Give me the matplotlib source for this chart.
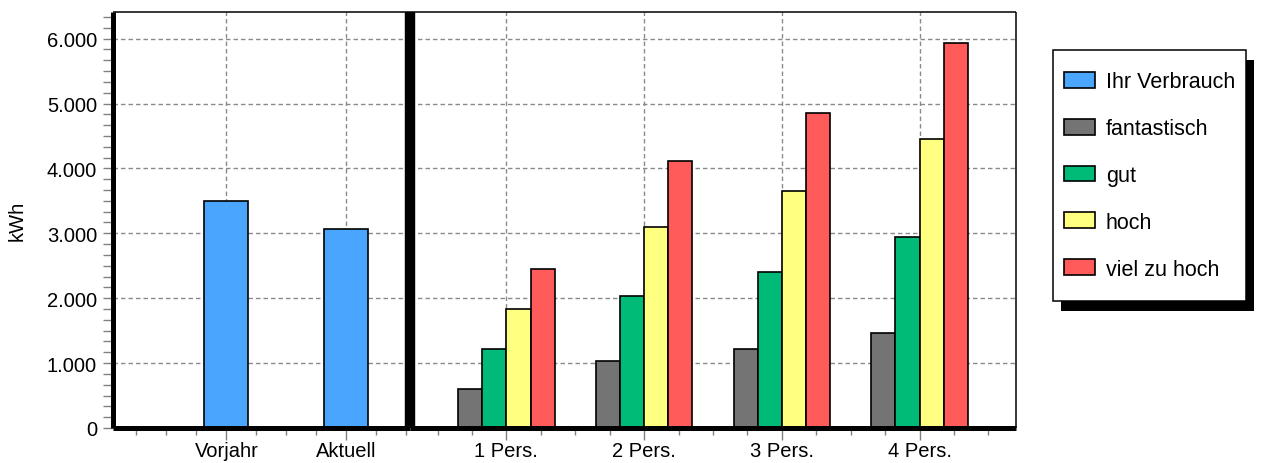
import matplotlib
matplotlib.use('Agg')
import matplotlib.pyplot as plt
from matplotlib.ticker import MultipleLocator, FixedLocator, FuncFormatter, NullLocator
from matplotlib.patches import Rectangle

plt.rcParams['font.family'] = ['Liberation Sans', 'DejaVu Sans']
plt.rcParams['font.size'] = 14.5

# own consumption
own_labels = ['Vorjahr', 'Aktuell']
own_values = [3500, 3070]

# reference values per household size
household_labels = ['1 Pers.', '2 Pers.', '3 Pers.', '4 Pers.']
fantastisch = [600, 1030, 1215, 1470]
gut = [1215, 2040, 2410, 2940]
hoch = [1830, 3090, 3650, 4450]
viel_zu_hoch = [2450, 4110, 4850, 5930]

series_names = ['Ihr Verbrauch', 'fantastisch', 'gut', 'hoch', 'viel zu hoch']
colors = ['#4aa5ff', '#747474', '#00ba78', '#ffff80', '#ff5b5b']

W, H = 1261, 464
fig = plt.figure(figsize=(W / 100, H / 100), dpi=100)
ax1 = fig.add_axes([112.5 / W, 35 / H, 297.5 / W, 416 / H])
ax2 = fig.add_axes([410 / W, 35 / H, 606 / W, 416 / H])

grid_kw = dict(color='#8a8a8a', linestyle=(0, (3.2, 2.2)), linewidth=1.0)
fmt = FuncFormatter(lambda v, _: f'{int(round(v)):,}'.replace(',', '.'))

# left panel
x1 = list(range(1, len(own_labels) + 1))
ax1.bar(x1, own_values, width=0.367, color=colors[0], edgecolor='black', linewidth=1.2)
ax1.set_xlim(0.05, 2.53)

# right panel
x2 = list(range(1, len(household_labels) + 1))
bw = 0.175
for k, vals in enumerate([fantastisch, gut, hoch, viel_zu_hoch]):
    off = (k - 1.5) * bw
    ax2.bar([x + off for x in x2], vals, width=bw, color=colors[k + 1],
            edgecolor='black', linewidth=1.2)
ax2.set_xlim(0.3, 4.7)

for ax, xs, labels in [(ax1, x1, own_labels), (ax2, x2, household_labels)]:
    ax.set_ylim(0, 6410)
    ax.set_axisbelow(True)
    ax.xaxis.set_major_locator(FixedLocator(xs))
    ax.set_xticklabels(labels)
    ax.xaxis.set_minor_locator(MultipleLocator(0.25))
    ax.yaxis.set_major_locator(MultipleLocator(1000))
    ax.grid(True, which='major', **grid_kw)
    ax.tick_params(axis='x', which='major', length=8.5, width=1, color='#808080', pad=1)
    ax.tick_params(axis='x', which='minor', length=5, width=1, color='#808080')
    ax.spines['bottom'].set_linewidth(3.6)
    ax.spines['top'].set_linewidth(1.1)
    for sp in ax.spines.values():
        sp.set_capstyle('butt')

ax1.yaxis.set_minor_locator(MultipleLocator(1000 / 6))
ax1.yaxis.set_major_formatter(fmt)
ax1.tick_params(axis='y', which='both', length=7.5, width=1, color='#808080', pad=3.6)
ax1.spines['left'].set_linewidth(3.6)
ax1.spines['right'].set_visible(False)
ax1.set_ylabel('kWh')
ax1.yaxis.set_label_coords(-0.29, 0.5)

ax2.yaxis.set_minor_locator(NullLocator())
ax2.tick_params(axis='y', which='both', left=False, labelleft=False)
ax2.spines['left'].set_linewidth(7.5)
ax2.spines['right'].set_linewidth(1.1)

# legend
handles = [Rectangle((0, 0), 1, 1, facecolor=c, edgecolor='black', linewidth=1.2) for c in colors]
leg = fig.legend(handles, series_names, loc='center left',
                 bbox_to_anchor=(1053 / W, 287.5 / H), frameon=False, fontsize=15.5,
                 handlelength=1.45, handleheight=0.75, handletextpad=0.5,
                 labelspacing=1.2, borderpad=0.5, borderaxespad=0)

fig.canvas.draw()
bb = leg.get_window_extent()
extra = 11
inv = fig.transFigure.inverted()
(fx0, fy0), (fx1, fy1) = inv.transform([(bb.x0, bb.y0 - extra), (bb.x1, bb.y1 + extra)])
dx, dy = 8 / W, 10 / H
fig.add_artist(Rectangle((fx0 + dx, fy0 - dy), fx1 - fx0, fy1 - fy0, transform=fig.transFigure,
                         facecolor='black', edgecolor='none', zorder=2))
fig.add_artist(Rectangle((fx0, fy0), fx1 - fx0, fy1 - fy0, transform=fig.transFigure,
                         facecolor='white', edgecolor='black', linewidth=1.1, zorder=3))

fig.savefig('out.png', dpi=100)
